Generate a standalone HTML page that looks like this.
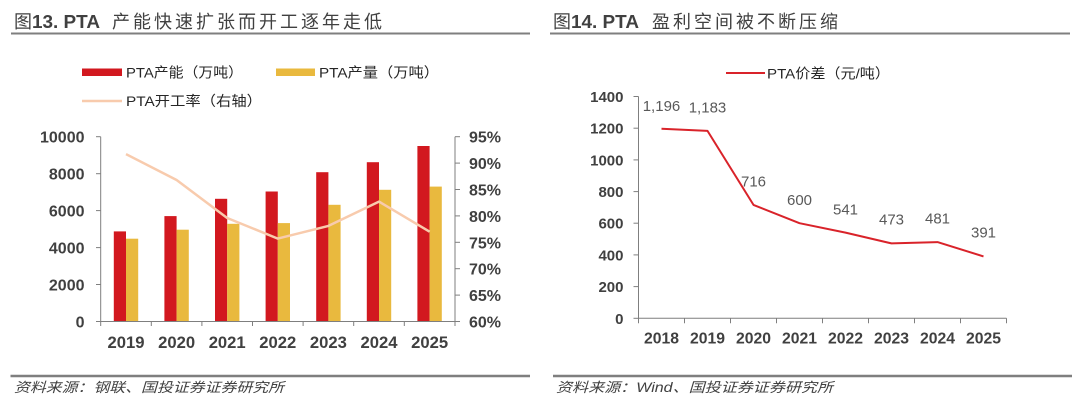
<!DOCTYPE html>
<html>
<head>
<meta charset="utf-8">
<style>
  html,body{margin:0;padding:0;background:#fff;}
  svg{display:block;}
  .cjk{font-family:"Liberation Sans","Noto Sans CJK SC",sans-serif;}
  .tick{font-family:"Liberation Sans",sans-serif;font-weight:bold;fill:#404040;}
</style>
</head>
<body>
<svg width="1080" height="411" viewBox="0 0 1080 411" xmlns="http://www.w3.org/2000/svg">
  <rect width="1080" height="411" fill="#fff"/>

  <!-- ===== LEFT TITLE ===== -->
  <text x="14" y="28" class="cjk" font-size="18" fill="#404040">图</text>
  <text x="32" y="28" font-family="Liberation Sans, sans-serif" font-weight="bold" font-size="18" fill="#404040" textLength="68" lengthAdjust="spacingAndGlyphs">13. PTA</text>
  <text x="112" y="28" class="cjk" font-size="18" fill="#404040" textLength="270" lengthAdjust="spacing">产能快速扩张而开工逐年走低</text>
  <line x1="11" y1="33.5" x2="530" y2="33.5" stroke="#7f7f7f" stroke-width="2"/>

  <!-- ===== RIGHT TITLE ===== -->
  <text x="553" y="28" class="cjk" font-size="18" fill="#404040">图</text>
  <text x="571" y="28" font-family="Liberation Sans, sans-serif" font-weight="bold" font-size="18" fill="#404040" textLength="68" lengthAdjust="spacingAndGlyphs">14. PTA</text>
  <text x="652" y="28" class="cjk" font-size="18" fill="#404040" textLength="186" lengthAdjust="spacing">盈利空间被不断压缩</text>
  <line x1="550" y1="33.5" x2="1070" y2="33.5" stroke="#7f7f7f" stroke-width="2"/>

  <!-- ===== LEFT LEGEND ===== -->
  <rect x="82" y="68.5" width="40" height="7.5" fill="#D2181F"/>
  <text x="126" y="77.5" class="cjk" font-size="14" fill="#262626" textLength="117" lengthAdjust="spacingAndGlyphs">PTA产能（万吨）</text>
  <rect x="276" y="68.5" width="39" height="7.5" fill="#E9B93E"/>
  <text x="319" y="77.5" class="cjk" font-size="14" fill="#262626" textLength="120" lengthAdjust="spacingAndGlyphs">PTA产量（万吨）</text>
  <line x1="82" y1="101" x2="122" y2="101" stroke="#F8CBAD" stroke-width="2.5"/>
  <text x="126" y="106" class="cjk" font-size="14" fill="#262626" textLength="136" lengthAdjust="spacingAndGlyphs">PTA开工率（右轴）</text>

  <!-- ===== LEFT CHART ===== -->
  <!-- bars -->
  <g fill="#D2181F">
    <rect x="113.8" y="231.4" width="12.2" height="90.1"/>
    <rect x="164.4" y="216.1" width="12.2" height="105.4"/>
    <rect x="215.0" y="198.8" width="12.2" height="122.7"/>
    <rect x="265.6" y="191.5" width="12.2" height="130.0"/>
    <rect x="316.2" y="172.2" width="12.2" height="149.3"/>
    <rect x="366.8" y="162.2" width="12.2" height="159.3"/>
    <rect x="417.4" y="146.0" width="12.2" height="175.5"/>
  </g>
  <g fill="#E9B93E">
    <rect x="126.0" y="238.7" width="12.2" height="82.8"/>
    <rect x="176.6" y="229.7" width="12.2" height="91.8"/>
    <rect x="227.2" y="223.8" width="12.2" height="97.7"/>
    <rect x="277.8" y="223.1" width="12.2" height="98.4"/>
    <rect x="328.4" y="204.8" width="12.2" height="116.7"/>
    <rect x="379.0" y="189.8" width="12.2" height="131.7"/>
    <rect x="429.6" y="186.6" width="12.2" height="134.9"/>
  </g>
  <!-- line -->
  <polyline fill="none" stroke="#F8CBAD" stroke-width="2.5" stroke-linejoin="round"
    points="126,154.1 176.6,180 227.2,218 277.8,238.6 328.4,225.9 379,201.6 429.6,231.7"/>

  <!-- axes -->
  <g stroke="#7f7f7f" stroke-width="1" fill="none">
    <line x1="100.7" y1="136.7" x2="100.7" y2="321.5"/>
    <line x1="455" y1="136.7" x2="455" y2="321.5"/>
    <line x1="100.7" y1="321.5" x2="455" y2="321.5"/>
    <!-- left ticks -->
    <line x1="96" y1="136.7" x2="100.7" y2="136.7"/>
    <line x1="96" y1="173.7" x2="100.7" y2="173.7"/>
    <line x1="96" y1="210.6" x2="100.7" y2="210.6"/>
    <line x1="96" y1="247.6" x2="100.7" y2="247.6"/>
    <line x1="96" y1="284.5" x2="100.7" y2="284.5"/>
    <line x1="96" y1="321.5" x2="100.7" y2="321.5"/>
    <!-- right ticks -->
    <line x1="455" y1="136.7" x2="460" y2="136.7"/>
    <line x1="455" y1="163.1" x2="460" y2="163.1"/>
    <line x1="455" y1="189.5" x2="460" y2="189.5"/>
    <line x1="455" y1="215.9" x2="460" y2="215.9"/>
    <line x1="455" y1="242.3" x2="460" y2="242.3"/>
    <line x1="455" y1="268.7" x2="460" y2="268.7"/>
    <line x1="455" y1="295.1" x2="460" y2="295.1"/>
    <line x1="455" y1="321.5" x2="460" y2="321.5"/>
    <!-- x ticks -->
    <line x1="100.7" y1="321.5" x2="100.7" y2="326"/>
    <line x1="151.3" y1="321.5" x2="151.3" y2="326"/>
    <line x1="201.9" y1="321.5" x2="201.9" y2="326"/>
    <line x1="252.5" y1="321.5" x2="252.5" y2="326"/>
    <line x1="303.1" y1="321.5" x2="303.1" y2="326"/>
    <line x1="353.7" y1="321.5" x2="353.7" y2="326"/>
    <line x1="404.3" y1="321.5" x2="404.3" y2="326"/>
    <line x1="455" y1="321.5" x2="455" y2="326"/>
  </g>

  <!-- left axis labels -->
  <g class="tick" font-size="16" text-anchor="end">
    <text x="84.5" y="142.7">10000</text>
    <text x="84.5" y="179.7">8000</text>
    <text x="84.5" y="216.6">6000</text>
    <text x="84.5" y="253.6">4000</text>
    <text x="84.5" y="290.5">2000</text>
    <text x="84.5" y="327.5">0</text>
  </g>
  <!-- right axis labels -->
  <g class="tick" font-size="16">
    <text x="469" y="142.7">95%</text>
    <text x="469" y="169.1">90%</text>
    <text x="469" y="195.5">85%</text>
    <text x="469" y="221.9">80%</text>
    <text x="469" y="248.3">75%</text>
    <text x="469" y="274.7">70%</text>
    <text x="469" y="301.1">65%</text>
    <text x="469" y="327.5">60%</text>
  </g>
  <!-- years -->
  <g class="tick" font-size="17" text-anchor="middle">
    <text x="126" y="348" textLength="37" lengthAdjust="spacingAndGlyphs">2019</text>
    <text x="176.6" y="348" textLength="37" lengthAdjust="spacingAndGlyphs">2020</text>
    <text x="227.2" y="348" textLength="37" lengthAdjust="spacingAndGlyphs">2021</text>
    <text x="277.8" y="348" textLength="37" lengthAdjust="spacingAndGlyphs">2022</text>
    <text x="328.4" y="348" textLength="37" lengthAdjust="spacingAndGlyphs">2023</text>
    <text x="379" y="348" textLength="37" lengthAdjust="spacingAndGlyphs">2024</text>
    <text x="429.6" y="348" textLength="37" lengthAdjust="spacingAndGlyphs">2025</text>
  </g>

  <!-- ===== RIGHT LEGEND ===== -->
  <line x1="726" y1="73" x2="765" y2="73" stroke="#D9232A" stroke-width="2"/>
  <text x="767" y="78.5" class="cjk" font-size="14" fill="#262626" textLength="123" lengthAdjust="spacingAndGlyphs">PTA价差（元/吨）</text>

  <!-- ===== RIGHT CHART ===== -->
  <g stroke="#7f7f7f" stroke-width="1" fill="none">
    <line x1="638.5" y1="96.5" x2="638.5" y2="318.3"/>
    <line x1="638.5" y1="318.3" x2="1006.5" y2="318.3"/>
    <line x1="633.5" y1="96.5" x2="638.5" y2="96.5"/>
    <line x1="633.5" y1="128.2" x2="638.5" y2="128.2"/>
    <line x1="633.5" y1="159.9" x2="638.5" y2="159.9"/>
    <line x1="633.5" y1="191.6" x2="638.5" y2="191.6"/>
    <line x1="633.5" y1="223.2" x2="638.5" y2="223.2"/>
    <line x1="633.5" y1="254.9" x2="638.5" y2="254.9"/>
    <line x1="633.5" y1="286.6" x2="638.5" y2="286.6"/>
    <line x1="633.5" y1="318.3" x2="638.5" y2="318.3"/>
    <line x1="638.5" y1="318.3" x2="638.5" y2="323.3"/>
    <line x1="684.5" y1="318.3" x2="684.5" y2="323.3"/>
    <line x1="730.5" y1="318.3" x2="730.5" y2="323.3"/>
    <line x1="776.5" y1="318.3" x2="776.5" y2="323.3"/>
    <line x1="822.5" y1="318.3" x2="822.5" y2="323.3"/>
    <line x1="868.5" y1="318.3" x2="868.5" y2="323.3"/>
    <line x1="914.5" y1="318.3" x2="914.5" y2="323.3"/>
    <line x1="960.5" y1="318.3" x2="960.5" y2="323.3"/>
    <line x1="1006.5" y1="318.3" x2="1006.5" y2="323.3"/>
  </g>

  <polyline fill="none" stroke="#D9232A" stroke-width="2" stroke-linejoin="round"
    points="661.5,128.8 707.5,130.9 753.5,204.9 799.5,223.2 845.5,232.6 891.5,243.4 937.5,242.1 983.5,256.4"/>

  <!-- data labels -->
  <g font-family="Liberation Sans, sans-serif" font-size="15" fill="#595959" text-anchor="middle">
    <text x="661.5" y="111">1,196</text>
    <text x="707.5" y="112.5">1,183</text>
    <text x="753.5" y="186.5">716</text>
    <text x="799.5" y="205">600</text>
    <text x="845.5" y="214.5">541</text>
    <text x="891.5" y="224.5">473</text>
    <text x="937.5" y="223.5">481</text>
    <text x="983.5" y="237.5">391</text>
  </g>

  <!-- right y labels -->
  <g class="tick" font-size="15" text-anchor="end">
    <text x="623.5" y="102">1400</text>
    <text x="623.5" y="133.7">1200</text>
    <text x="623.5" y="165.4">1000</text>
    <text x="623.5" y="197.1">800</text>
    <text x="623.5" y="228.7">600</text>
    <text x="623.5" y="260.4">400</text>
    <text x="623.5" y="292.1">200</text>
    <text x="623.5" y="323.8">0</text>
  </g>
  <!-- right years -->
  <g class="tick" font-size="16" text-anchor="middle">
    <text x="661.5" y="343.5" textLength="35" lengthAdjust="spacingAndGlyphs">2018</text>
    <text x="707.5" y="343.5" textLength="35" lengthAdjust="spacingAndGlyphs">2019</text>
    <text x="753.5" y="343.5" textLength="35" lengthAdjust="spacingAndGlyphs">2020</text>
    <text x="799.5" y="343.5" textLength="35" lengthAdjust="spacingAndGlyphs">2021</text>
    <text x="845.5" y="343.5" textLength="35" lengthAdjust="spacingAndGlyphs">2022</text>
    <text x="891.5" y="343.5" textLength="35" lengthAdjust="spacingAndGlyphs">2023</text>
    <text x="937.5" y="343.5" textLength="35" lengthAdjust="spacingAndGlyphs">2024</text>
    <text x="983.5" y="343.5" textLength="35" lengthAdjust="spacingAndGlyphs">2025</text>
  </g>

  <!-- ===== BOTTOM RULES & SOURCES ===== -->
  <line x1="10.5" y1="376" x2="530" y2="376" stroke="#7f7f7f" stroke-width="2.5"/>
  <line x1="553" y1="376" x2="1072" y2="376" stroke="#7f7f7f" stroke-width="2.5"/>
  <text x="14" y="392" class="cjk" font-size="13.5" font-style="italic" fill="#404040" textLength="270" lengthAdjust="spacingAndGlyphs">资料来源：钢联、国投证券证券研究所</text>
  <text x="556" y="392" class="cjk" font-size="13.5" font-style="italic" fill="#404040" textLength="277" lengthAdjust="spacingAndGlyphs">资料来源：Wind、国投证券证券研究所</text>
</svg>
</body>
</html>
